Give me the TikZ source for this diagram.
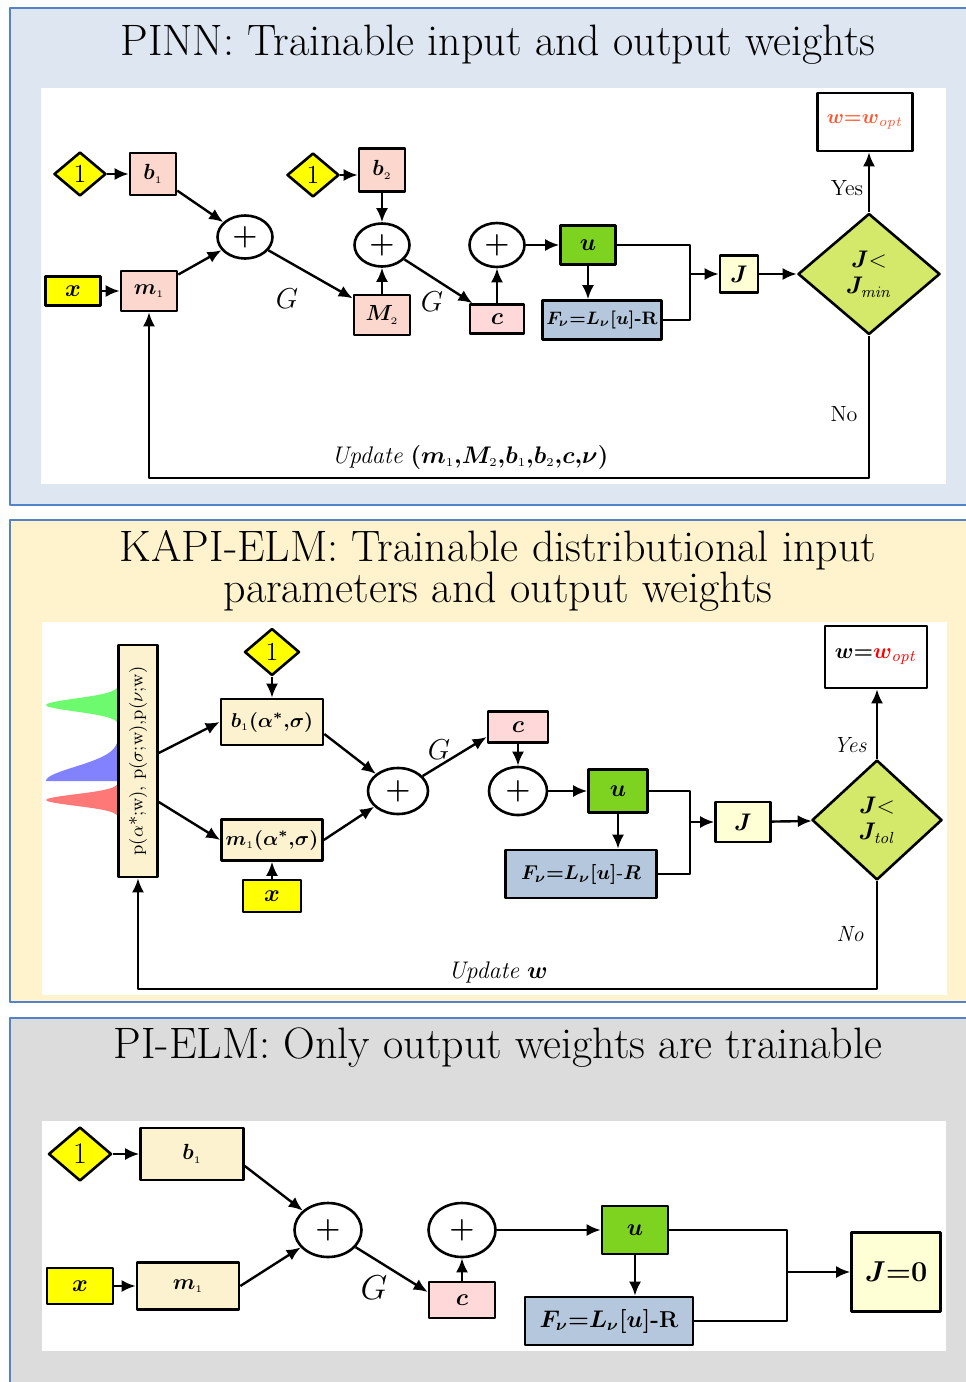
\documentclass[tikz,border=0pt]{standalone}
\usepackage{amsmath,bm}
\usetikzlibrary{shapes.geometric,arrows.meta}
\definecolor{bgone}{RGB}{221,230,241}
\definecolor{bgtwo}{RGB}{255,243,206}
\definecolor{bgthree}{RGB}{220,220,220}
\definecolor{frame}{RGB}{84,130,200}
\definecolor{pnk}{RGB}{251,215,205}
\definecolor{pnkc}{RGB}{255,217,217}
\definecolor{crm}{RGB}{253,242,208}
\definecolor{yel}{RGB}{255,255,0}
\definecolor{grn}{RGB}{126,211,33}
\definecolor{stl}{RGB}{180,199,220}
\definecolor{jyl}{RGB}{255,255,214}
\definecolor{lme}{RGB}{212,232,106}
\definecolor{wred}{RGB}{255,85,45}
\definecolor{gcol}{RGB}{110,250,110}
\definecolor{bcol}{RGB}{130,130,255}
\definecolor{rcol}{RGB}{255,120,120}
\newcommand\fsz[1]{\fontsize{#1}{#1}\selectfont}
\tikzset{
  sz/.style 2 args={minimum width=#1*0.5pt, minimum height=#2*0.5pt},
  blk/.style={rectangle, draw, line width=1.3pt, inner sep=0pt, font=\fsz{11}},
  one/.style={diamond, draw, fill=yel, line width=1.3pt, inner sep=0pt, font=\fsz{13}},
  sum/.style={ellipse, draw, fill=white, line width=1.3pt, inner sep=0pt, font=\fsz{14}},
  test/.style={diamond, draw, fill=lme, line width=1.3pt, inner sep=0pt, align=center, font=\fontsize{12}{13}\selectfont},
  lab/.style={inner sep=1pt, font=\fsz{11}},
  ttl/.style={align=center, font=\fontsize{22}{19}\selectfont},
}
\begin{document}
\begin{tikzpicture}[x=0.5pt, y=-0.5pt, line width=1.2pt, line join=round, >={Latex[length=7pt,width=6pt]}]
\useasboundingbox (0,0) rectangle (965,1382);
% panels
\filldraw[fill=bgone, draw=frame, line width=0.6pt] (10,8) rectangle (980,505);
\fill[white] (41,88) rectangle (946,484);
\filldraw[fill=bgtwo, draw=frame, line width=0.6pt] (10,520) rectangle (980,1002);
\fill[white] (42,622) rectangle (947,995);
\filldraw[fill=bgthree, draw=frame, line width=0.6pt] (10,1018) rectangle (980,1400);
\fill[white] (42,1121) rectangle (946,1351);
\node[ttl] (t1) at (498,45) {PINN: Trainable input and output weights};
\node[ttl] (t2) at (498,571) {KAPI-ELM: Trainable distributional input\\parameters and output weights};
\node[ttl] (t3) at (498,1048) {PI-ELM: Only output weights are trainable};

% PINN
\node[one, sz={52}{44}] (a1) at (80,174) {1};
\node[blk, fill=pnk, sz={46}{42}] (b1) at (153,174) {$\bm{b}_{\scriptscriptstyle 1}$};
\node[blk, fill=yel, sz={55}{29}, font=\fsz{12}] (x1) at (73,291) {$\bm{x}$};
\node[blk, fill=pnk, sz={56}{40}] (m1) at (149,291) {$\bm{m}_{\scriptscriptstyle 1}$};
\node[sum, sz={55}{43}] (s1) at (245,237) {$\bm{+}$};
\node[one, sz={52}{44}] (a2) at (313,175) {1};
\node[blk, fill=pnk, sz={46}{43}] (b2) at (382,170) {$\bm{b}_{\scriptscriptstyle 2}$};
\node[sum, sz={55}{43}] (s2) at (382,245) {$\bm{+}$};
\node[blk, fill=pnk, sz={56}{40}] (M2) at (382,315) {$\bm{M}_{\scriptscriptstyle 2}$};
\node[sum, sz={55}{44}] (s3) at (497,245) {$\bm{+}$};
\node[blk, fill=pnkc, sz={54}{29}, font=\fsz{13}] (c1) at (497,319) {$\bm{c}$};
\node[blk, fill=grn, sz={55}{39}, font=\fsz{13}] (u1) at (588,245) {$\bm{u}$};
\node[blk, fill=stl, sz={119}{39}, font=\fsz{9}] (F1) at (602,320) {$\bm{F_{\nu}{=}L_{\nu}[u]}$\textbf{-R}};
\node[blk, fill=jyl, sz={38}{37}, font=\fsz{13}] (J1) at (739,274) {$\bm{J}$};
\node[test, sz={142}{121}] (d1) at (869,274) {$\bm{J}{<}$\\$\bm{J}_{\mathit{min}}$};
\node[blk, fill=white, sz={95}{58}, font=\fsz{10}] (w1) at (865,122) {\color{wred}$\bm{w{=}w}_{\mathit{opt}}$};
\coordinate (j1) at (690,274);
\coordinate (r1) at (0,478);
\draw[->] (a1) -- (b1);
\draw[->] (x1) -- (m1);
\draw[->] (b1) -- (s1);
\draw[->] (m1) -- (s1);
\draw[->] (s1) -- (M2);
\draw[->] (a2) -- (a2 -| b2.west);
\draw[->] (b2) -- (s2);
\draw[->] (M2) -- (s2);
\draw[->] (s2) -- (c1);
\draw[->] (c1) -- (s3);
\draw[->] (s3) -- (u1);
\draw[->] (u1.south) -- (u1.south |- F1.north);
\draw (u1.east) -| (j1) |- (F1.east);
\draw[->] (j1) -- (J1);
\draw[->] (J1) -- (d1);
\draw[->] (d1.north) -- (d1.north |- w1.south);
\draw[->] (d1.south) |- (m1 |- r1) -- (m1.south);
\node[lab, font=\fsz{15}] (g1) at (287,299) {$G$};
\node[lab, font=\fsz{15}] (g2) at (432,302) {$G$};
\node[lab] (y1) at (847,188) {Yes};
\node[lab] (n1) at (844,414) {No};
\node[lab, font=\fsz{12}] (up1) at (470,457) {\textit{Update} $\bm{(m}_{\scriptscriptstyle 1}\bm{{,}M}_{\scriptscriptstyle 2}\bm{{,}b}_{\scriptscriptstyle 1}\bm{{,}b}_{\scriptscriptstyle 2}\bm{{,}c{,}\nu)}$};

% KAPI-ELM
\fill[bcol] plot[domain=712:781, samples=40] ({119-73*exp(-((\x-781)/20)*((\x-781)/20))}, \x) -- (119,781) -- cycle;
\fill[gcol] plot[domain=680:735, samples=40] ({119-73*exp(-((\x-705)/9)*((\x-705)/9))}, \x) -- cycle;
\fill[rcol] plot[domain=780:830, samples=40] ({119-73*exp(-((\x-800)/8)*((\x-800)/8))}, \x) -- cycle;
\node[blk, fill=crm, sz={39}{232}, font=\fsz{9}] (pv) at (138,761) {\rotatebox{90}{p($\alpha$*;w), p($\sigma$;w),p($\nu$;w)}};
\node[one, sz={55}{47}] (ka) at (272,652) {1};
\node[blk, fill=crm, sz={102}{46}, font=\fsz{10}] (kb) at (272,722) {$\bm{b}_{\scriptscriptstyle 1}\bm{(\alpha^{*}{,}\sigma)}$};
\node[blk, fill=crm, sz={101}{41}, font=\fsz{10}] (km) at (272,840) {$\bm{m}_{\scriptscriptstyle 1}\bm{(\alpha^{*}{,}\sigma)}$};
\node[blk, fill=yel, sz={58}{32}, font=\fsz{12}] (kx) at (272,896) {$\bm{x}$};
\node[sum, sz={60}{46}] (ks1) at (398,791) {$\bm{+}$};
\node[blk, fill=pnkc, sz={60}{31}, font=\fsz{13}] (kc) at (518,727) {$\bm{c}$};
\node[sum, sz={58}{48}] (ks2) at (518,791) {$\bm{+}$};
\node[blk, fill=grn, sz={59}{43}, font=\fsz{13}] (ku) at (618,791) {$\bm{u}$};
\node[blk, fill=stl, sz={151}{48}, font=\fsz{10}] (kF) at (581,874) {$\bm{F_{\nu}{=}L_{\nu}[u]\text{-}R}$};
\node[blk, fill=jyl, sz={55}{40}, font=\fsz{13}] (kJ) at (743,822) {$\bm{J}$};
\node[test, sz={130}{120}] (kd) at (877,820) {$\bm{J}{<}$\\$\bm{J}_{\mathit{tol}}$};
\node[blk, fill=white, sz={102}{62}, font=\fsz{11}] (kw) at (876,657) {$\bm{w{=}}${\color{red}$\bm{w}_{\mathit{opt}}$}};
\coordinate (kj) at (690,822);
\coordinate (kr) at (0,989);
\draw[->] ([yshift=4pt]pv.east) -- (kb.west);
\draw[->] ([yshift=-20.5pt]pv.east) -- (km.west);
\draw[->] (ka) -- (kb);
\draw[->] (kx) -- (km);
\draw[->] ([yshift=-6pt]kb.east) -- (ks1);
\draw[->] (km.east) -- (ks1);
\draw[->] (ks1) -- ([yshift=-5pt]kc.west);
\draw[->] (kc) -- (ks2);
\draw[->] (ks2) -- (ku);
\draw[->] (ku.south) -- (ku.south |- kF.north);
\draw (ku.east) -| (kj) |- (kF.east);
\draw[->] (kj) -- (kJ);
\draw[->] (kJ) -- (kd);
\draw[->] (kd.north) -- (kd.north |- kw.south);
\draw[->] (kd.south) |- (pv |- kr) -- (pv.south);
\node[lab, font=\fsz{15}] (g3) at (439,750) {$G$};
\node[lab] (y2) at (850,745) {\textit{Yes}};
\node[lab] (n2) at (850,934) {\textit{No}};
\node[lab, font=\fsz{12}] (up2) at (498,972) {\textit{Update} $\bm{w}$};

% PI-ELM
\node[one, sz={63}{54}, font=\fsz{15}] (qa) at (80,1154) {1};
\node[blk, fill=crm, sz={103}{52}] (qb) at (192,1154) {$\bm{b}_{\scriptscriptstyle 1}$};
\node[blk, fill=yel, sz={66}{36}, font=\fsz{13}] (qx) at (80,1286) {$\bm{x}$};
\node[blk, fill=crm, sz={102}{47}] (qm) at (188,1286) {$\bm{m}_{\scriptscriptstyle 1}$};
\node[sum, sz={67}{54}] (qs1) at (328,1230) {$\bm{+}$};
\node[sum, sz={67}{54}] (qs2) at (462,1230) {$\bm{+}$};
\node[blk, fill=pnkc, sz={66}{36}, font=\fsz{13}] (qc) at (462,1300) {$\bm{c}$};
\node[blk, fill=grn, sz={66}{48}, font=\fsz{13}] (qu) at (635,1230) {$\bm{u}$};
\node[blk, fill=stl, sz={168}{48}, font=\fsz{11.5}] (qF) at (609,1321) {$\bm{F_{\nu}{=}L_{\nu}[u]}$\textbf{-R}};
\node[blk, fill=jyl, sz={89}{79}, font=\fsz{14}] (qJ) at (896,1272) {$\bm{J{=}0}$};
\coordinate (qj) at (787,1272);
\draw[->] (qa) -- (qb);
\draw[->] (qx) -- (qm);
\draw[->] ([yshift=-6pt]qb.east) -- (qs1);
\draw[->] (qm.east) -- (qs1);
\draw[->] (qs1) -- ([yshift=4pt]qc.west);
\draw[->] (qc) -- (qs2);
\draw[->] (qs2) -- (qu);
\draw[->] (qu.south) -- (qu.south |- qF.north);
\draw (qu.east) -| (qj) |- (qF.east);
\draw[->] (qj) -- (qJ);
\node[lab, font=\fsz{16}] (g4) at (374,1288) {$G$};
\end{tikzpicture}
\end{document}
